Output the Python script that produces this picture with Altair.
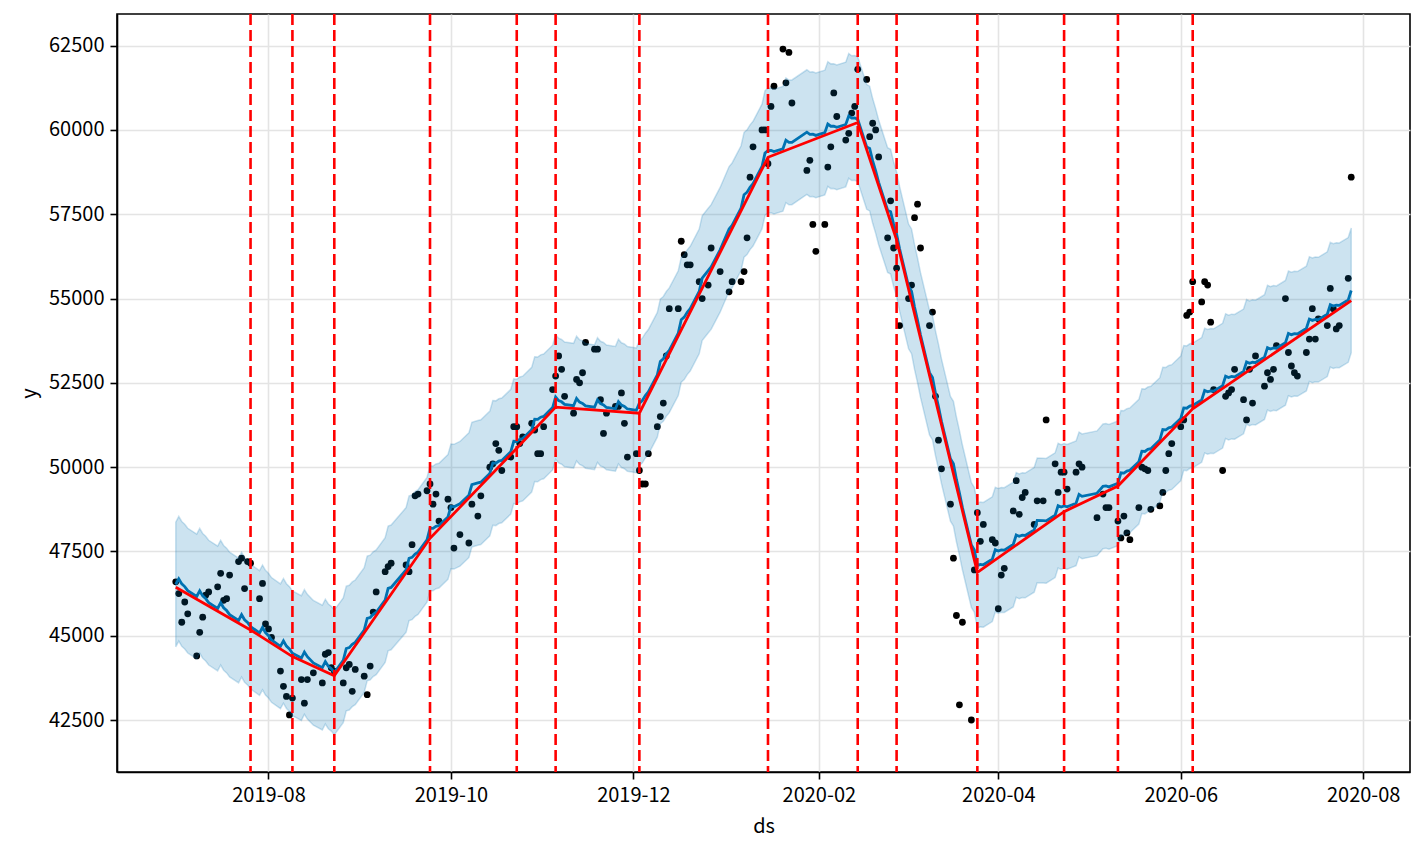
import altair as alt
import numpy as np
import pandas as pd

# ---- observed data (trading days) ----
dates = [
    # 2019-07
    "2019-07-01", "2019-07-02", "2019-07-03", "2019-07-04", "2019-07-05", "2019-07-08", "2019-07-09", "2019-07-10",
    "2019-07-11", "2019-07-12", "2019-07-15", "2019-07-16", "2019-07-17", "2019-07-18", "2019-07-19", "2019-07-22",
    "2019-07-23", "2019-07-24", "2019-07-25", "2019-07-26", "2019-07-29", "2019-07-30", "2019-07-31",
    # 2019-08
    "2019-08-01", "2019-08-02", "2019-08-05", "2019-08-06", "2019-08-07", "2019-08-08", "2019-08-09", "2019-08-12",
    "2019-08-13", "2019-08-14", "2019-08-16", "2019-08-19", "2019-08-20", "2019-08-21", "2019-08-22", "2019-08-23",
    "2019-08-26", "2019-08-27", "2019-08-28", "2019-08-29", "2019-08-30",
    # 2019-09
    "2019-09-02", "2019-09-03", "2019-09-04", "2019-09-05", "2019-09-06", "2019-09-09", "2019-09-10", "2019-09-11",
    "2019-09-16", "2019-09-17", "2019-09-18", "2019-09-19", "2019-09-20", "2019-09-23", "2019-09-24", "2019-09-25",
    "2019-09-26", "2019-09-27", "2019-09-30",
    # 2019-10
    "2019-10-01", "2019-10-02", "2019-10-04", "2019-10-07", "2019-10-08", "2019-10-10", "2019-10-11", "2019-10-14",
    "2019-10-15", "2019-10-16", "2019-10-17", "2019-10-18", "2019-10-21", "2019-10-22", "2019-10-23", "2019-10-24",
    "2019-10-25", "2019-10-28", "2019-10-29", "2019-10-30", "2019-10-31",
    # 2019-11
    "2019-11-01", "2019-11-04", "2019-11-05", "2019-11-06", "2019-11-07", "2019-11-08", "2019-11-11", "2019-11-12",
    "2019-11-13", "2019-11-14", "2019-11-15", "2019-11-18", "2019-11-19", "2019-11-20", "2019-11-21", "2019-11-22",
    "2019-11-25", "2019-11-26", "2019-11-27", "2019-11-28", "2019-11-29",
    # 2019-12
    "2019-12-02", "2019-12-03", "2019-12-04", "2019-12-05", "2019-12-06", "2019-12-09", "2019-12-10", "2019-12-11",
    "2019-12-12", "2019-12-13", "2019-12-16", "2019-12-17", "2019-12-18", "2019-12-19", "2019-12-20", "2019-12-23",
    "2019-12-24", "2019-12-26", "2019-12-27", "2019-12-30",
    # 2020-01
    "2020-01-02", "2020-01-03", "2020-01-06", "2020-01-07", "2020-01-08", "2020-01-09", "2020-01-10", "2020-01-13",
    "2020-01-14", "2020-01-15", "2020-01-16", "2020-01-17", "2020-01-20", "2020-01-21", "2020-01-22", "2020-01-23",
    "2020-01-28", "2020-01-29", "2020-01-30", "2020-01-31",
    # 2020-02
    "2020-02-03", "2020-02-04", "2020-02-05", "2020-02-06", "2020-02-07", "2020-02-10", "2020-02-11", "2020-02-12",
    "2020-02-13", "2020-02-14", "2020-02-17", "2020-02-18", "2020-02-19", "2020-02-20", "2020-02-21", "2020-02-24",
    "2020-02-25", "2020-02-26", "2020-02-27", "2020-02-28",
    # 2020-03
    "2020-03-02", "2020-03-03", "2020-03-04", "2020-03-05", "2020-03-06", "2020-03-09", "2020-03-10", "2020-03-11",
    "2020-03-12", "2020-03-13", "2020-03-16", "2020-03-17", "2020-03-18", "2020-03-19", "2020-03-20", "2020-03-23",
    "2020-03-24", "2020-03-25", "2020-03-26", "2020-03-27", "2020-03-30", "2020-03-31",
    # 2020-04
    "2020-04-01", "2020-04-02", "2020-04-03", "2020-04-06", "2020-04-07", "2020-04-08", "2020-04-09", "2020-04-10",
    "2020-04-13", "2020-04-14", "2020-04-16", "2020-04-17", "2020-04-20", "2020-04-21", "2020-04-22", "2020-04-23",
    "2020-04-24", "2020-04-27", "2020-04-28", "2020-04-29",
    # 2020-05
    "2020-05-04", "2020-05-06", "2020-05-07", "2020-05-08", "2020-05-11", "2020-05-12", "2020-05-13", "2020-05-14",
    "2020-05-15", "2020-05-18", "2020-05-19", "2020-05-20", "2020-05-21", "2020-05-22", "2020-05-25", "2020-05-26",
    "2020-05-27", "2020-05-28", "2020-05-29",
    # 2020-06
    "2020-06-01", "2020-06-02", "2020-06-03", "2020-06-04", "2020-06-05", "2020-06-08", "2020-06-09", "2020-06-10",
    "2020-06-11", "2020-06-12", "2020-06-15", "2020-06-16", "2020-06-17", "2020-06-18", "2020-06-19", "2020-06-22",
    "2020-06-23", "2020-06-24", "2020-06-25", "2020-06-26", "2020-06-29", "2020-06-30",
    # 2020-07
    "2020-07-01", "2020-07-02", "2020-07-03", "2020-07-06", "2020-07-07", "2020-07-08", "2020-07-09", "2020-07-10",
    "2020-07-13", "2020-07-14", "2020-07-15", "2020-07-16", "2020-07-17", "2020-07-20", "2020-07-21", "2020-07-22",
    "2020-07-23", "2020-07-24", "2020-07-27", "2020-07-28",
]

values = [
    # 2019-07
    46600, 46250, 45400, 46000, 45650, 44400, 45100, 45550, 46200, 46300, 46450, 46850, 46050, 46100, 46800, 47200,
    47300, 46400, 47200, 47150, 46100, 46550, 45350,
    # 2019-08
    45200, 44950, 43950, 43500, 43200, 42650, 43150, 43700, 43000, 43700, 43900, 43600, 44450, 44500, 44050, 43950,
    43600, 44050, 44150, 43350, 44000,
    # 2019-09
    43800, 43250, 44100, 45700, 46300, 46900, 47050, 47150, 47100, 46900, 47700, 49150, 49200, 49300, 49500, 48900,
    49200, 48400, 49050,
    # 2019-10
    48800, 47600, 48000, 47750, 48900, 48550, 49150, 50000, 50100, 50700, 50500, 49900, 50300, 51200, 51200, 50700,
    50900, 51300, 51100, 50400, 50400,
    # 2019-11
    51200, 52300, 52700, 53300, 52900, 52100, 51600, 52600, 52500, 52800, 53700, 53500, 53500, 52000, 51000, 51600,
    51800, 51800, 52200, 51300, 50300,
    # 2019-12
    50400, 49900, 49500, 49500, 50400, 51200, 51500, 51900, 53300, 54700, 54700, 56700, 56300, 56000, 56000, 55500,
    55000, 55400, 56500, 55800,
    # 2020-01
    55200, 55500, 55500, 55800, 56800, 58600, 59500, 60000, 60000, 59000, 60700, 61300, 62400, 61400, 62300, 60800,
    58800, 59100, 57200, 56400,
    # 2020-02
    57200, 58900, 59500, 61100, 60400, 59700, 59900, 60500, 60700, 61800, 61500, 59800, 60200, 60000, 59200, 56800,
    57900, 56500, 55900, 54200,
    # 2020-03
    55000, 55400, 57400, 57800, 56500, 54200, 54600, 52100, 50800, 49950, 48900, 47300, 45600, 42950, 45400, 42500,
    46950, 48650, 47800, 48300, 47850, 47750,
    # 2020-04
    45800, 46800, 47000, 48700, 49600, 48600, 49100, 49250, 48300, 49000, 49000, 51400, 50100, 49250, 49850, 49850,
    49350, 49850, 50100, 50000,
    # 2020-05
    48500, 49200, 48800, 48800, 48400, 47900, 48550, 48050, 47850, 48800, 50000, 49950, 49900, 48750, 48850, 49250,
    49900, 50400, 50700,
    # 2020-06
    51200, 51400, 54500, 54600, 55500, 54900, 55500, 55400, 54300, 52300, 49900, 52100, 52200, 52300, 52900, 52000,
    51400, 52900, 51900, 53300, 52400, 52800,
    # 2020-07
    52600, 52900, 53600, 55000, 53400, 53000, 52800, 52700, 53400, 53800, 54700, 53800, 54400, 54200, 55300, 54700,
    54100, 54200, 55600, 58600,
]

# ---- fitted trend: value at start, at each changepoint, and at end ----
trend_dates = ["2019-07-01", "2019-07-26", "2019-08-09", "2019-08-23", "2019-09-24", "2019-10-23", "2019-11-05",
               "2019-12-03", "2020-01-15", "2020-02-14", "2020-02-27", "2020-03-25", "2020-04-23", "2020-05-11",
               "2020-06-05", "2020-07-28"]
trend_values = [46440, 45170, 44380, 43810, 47890, 50560, 51780, 51600, 59190, 60220, 56740, 46880, 48680, 49440,
                51730, 54940]
changepoints = trend_dates[1:-1]

# weekly component (Mon..Fri) and half-width of the uncertainty band
weekly_effect = [80, 300, 200, 170, 100]
band_half_width = 1850

# axis ticks
x_ticks = [(2019, 8), (2019, 10), (2019, 12), (2020, 2), (2020, 4), (2020, 6), (2020, 8)]
y_ticks = [42500, 45000, 47500, 50000, 52500, 55000, 57500, 60000, 62500]

# ---- build tables ----
ds = pd.to_datetime(dates)
df = pd.DataFrame({"ds": ds.strftime("%Y-%m-%dT00:00:00"), "y": values})

td = pd.to_datetime(trend_dates)
trend_at = np.interp(ds.map(pd.Timestamp.toordinal), td.map(pd.Timestamp.toordinal), trend_values)
yhat = trend_at + np.array(weekly_effect)[ds.dayofweek]
fc = pd.DataFrame({
    "ds": ds.strftime("%Y-%m-%dT00:00:00"),
    "yhat": yhat,
    "lower": yhat - band_half_width,
    "upper": yhat + band_half_width,
})
trend_df = pd.DataFrame({"ds": td.strftime("%Y-%m-%dT00:00:00"), "trend": trend_values})
cp_df = pd.DataFrame({"ds": pd.to_datetime(changepoints).strftime("%Y-%m-%dT00:00:00")})

FONT = "Noto Sans CJK KR"

x_scale = alt.Scale(domain=[alt.DateTime(year=2019, month=6, date=11, hours=8, minutes=24),
                            alt.DateTime(year=2020, month=8, date=16, hours=15, minutes=36)])
y_scale = alt.Scale(domain=[40958, 63440], nice=False, zero=False)

x_axis = alt.Axis(values=[alt.DateTime(year=yy, month=mm, date=1) for yy, mm in x_ticks],
                  format="%Y-%m", title="ds")
y_axis = alt.Axis(values=y_ticks, format="d", title="y")

X = alt.X("ds:T", scale=x_scale, axis=x_axis)

points = alt.Chart(df).mark_circle(size=46, color="black", opacity=1).encode(
    x=X, y=alt.Y("y:Q", scale=y_scale, axis=y_axis)
)
yhat_line = alt.Chart(fc).mark_line(color="#0072B2", strokeWidth=2.8).encode(
    x=X, y=alt.Y("yhat:Q", scale=y_scale, axis=y_axis)
)
band = alt.Chart(fc).mark_area(color="#0072B2", fillOpacity=0.2, stroke="#0072B2",
                               strokeOpacity=0.2, strokeWidth=1.5).encode(
    x=X, y=alt.Y("lower:Q", scale=y_scale, axis=y_axis), y2="upper:Q"
)
cp_rules = alt.Chart(cp_df).mark_rule(color="red", strokeWidth=2.6, strokeDash=[11, 5]).encode(x=X)
trend_line = alt.Chart(trend_df).mark_line(color="red", strokeWidth=2.8).encode(
    x=X, y=alt.Y("trend:Q", scale=y_scale, axis=y_axis)
)

chart = alt.layer(points, yhat_line, band, cp_rules, trend_line).properties(
    width=1293, height=758,
    padding={"left": 109, "top": 6, "right": 7, "bottom": 75},
    autosize=alt.AutoSizeParams(type="none"),
).configure_view(
    stroke="black", strokeWidth=1.6
).configure_axis(
    labelFont=FONT, titleFont=FONT, labelFontSize=20, titleFontSize=20,
    labelColor="black", titleColor="black", titleFontWeight="normal",
    domainColor="black", domainWidth=1.6, tickColor="black", tickWidth=1.6, tickSize=7,
    labelPadding=6, gridColor="#e4e4e4", gridWidth=1.6, labelFlush=False, labelOverlap=False,
).configure_axisX(titlePadding=11).configure_axisY(titlePadding=9)

chart.save("out.html", embed_options={"renderer": "svg", "actions": False})
